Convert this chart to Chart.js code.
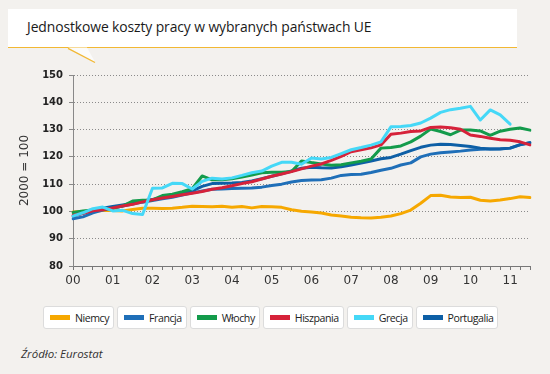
<!DOCTYPE html>
<html>
<head>
<meta charset="utf-8">
<script src="https://cdn.jsdelivr.net/npm/chart.js@4/dist/chart.umd.min.js"></script>
<style>
  html, body { margin: 0; padding: 0; }
  body { width: 550px; height: 374px; background: #f3f1ee; position: relative; overflow: hidden; font-family: "Open Sans", sans-serif; }
  .titlebox { position: absolute; left: 8px; top: 9px; width: 509px; height: 38px; background: #fff; border-bottom: 1.5px solid #f2b833; }
  .titlebox span { position: absolute; left: 19px; top: 8px; font-size: 13.9px; letter-spacing: -0.1px; color: #1a1a1a; white-space: nowrap; }
  .tail { position: absolute; left: 0; top: 0; }
  .wrap { position: absolute; left: 0; top: 0; width: 550px; height: 300px; }
  .legend { position: absolute; left: 43px; top: 306px; display: flex; gap: 3px; }
  .legend .item { display: flex; align-items: center; height: 21px; padding: 0 4px 0 6px; background: #fff; border: 1px solid #dcdcdc; border-radius: 3px; font-size: 10.6px; letter-spacing: -0.45px; color: #222; }
  .legend .sw { width: 20px; height: 5px; margin-right: 5px; }
  .source { position: absolute; left: 21px; top: 346px; font-size: 11.5px; font-style: italic; color: #333; }
</style>
</head>
<body>
<div class="titlebox"><span>Jednostkowe koszty pracy w wybranych państwach UE</span></div>
<svg class="tail" width="550" height="70">
  <polygon points="68,47.5 87,47.5 95,62" fill="#fbfbfa"/>
  <line x1="68" y1="48.3" x2="95" y2="62.5" stroke="#f2b833" stroke-width="1.3"/>
</svg>
<div class="wrap"><canvas id="c" width="550" height="300"></canvas></div>
<div class="legend" id="legend"></div>
<div class="source">Źródło: Eurostat</div>
<script>
// lata na osi X (kwartały 2000 Q1 - 2011 Q3)
const yearLabels = ['00','01','02','03','04','05','06','07','08','09','10','11'];
const quarters = [];
for (let i = 0; i < 47; i++) quarters.push(yearLabels[Math.floor(i / 4)] + ' Q' + (i % 4 + 1));

const seriesNames = ['Niemcy', 'Francja', 'Włochy', 'Hiszpania', 'Grecja', 'Portugalia'];
const seriesColors = ['#f6a800', '#1f6fb8', '#139b4b', '#d6223a', '#45d8f7', '#0d5fa6'];

const niemcy = [99.8,100,100.2,100.3,100.3,100.2,100.7,101.2,101.2,101.1,101.2,101.5,101.9,101.8,101.7,101.9,101.5,101.8,101.3,101.8,101.7,101.5,100.6,100.1,
  99.8,99.4,98.7,98.3,97.9,97.7,97.6,97.9,98.3,99.2,100.5,103,105.8,105.9,105.3,105.1,105.2,104.1,103.8,104.2,104.7,105.4,105.1];
const francja = [97.3,98,99.5,100.5,101.2,102,102.7,103.4,104,104.6,105.2,106,106.8,107.5,108.1,108.2,108.4,108.5,108.6,108.9,109.5,110,110.8,111.3,
  111.5,111.6,112.2,113.2,113.5,113.6,114.3,115.1,115.8,117,117.8,120,121,121.5,121.8,122.1,122.5,122.8,122.9,123,123.2,124.4,125.2];
const wlochy = [99.6,100.2,100.5,100.8,101.2,102,103.8,104.1,104.2,105.8,106.3,107.2,108.3,113,111.6,111.6,112,112.6,113.3,114.2,114.4,114.4,114.6,118.5,
  117.9,117.4,116.9,117.1,117.8,118.4,119.2,123.2,123.4,124,125.5,127.6,130.2,129.3,128.1,129.8,129.8,129.5,127.9,129.4,130.1,130.6,129.8];
const hiszpania = [98.5,99.3,100.2,100.6,101.3,102,102.6,103.5,104.3,104.9,105.5,106.1,106.7,107.3,108.1,108.7,109.4,110.2,110.9,111.9,112.9,113.7,114.6,115.6,
  116.6,117.4,118.7,120.2,121.9,122.6,123.3,124.4,128.3,128.7,129.3,129.5,130.8,130.9,130.7,130.1,128,127.5,126.8,126.3,126.1,125.5,124.4];
const grecja = [98.3,99.5,101,101.6,100.2,100.4,99.2,98.9,108.5,108.6,110.3,110.2,108.2,111,112.2,111.9,112.3,113.2,114.2,114.8,116.6,118,118,117.3,
  119.6,119.2,119.8,121.2,122.6,123.4,124.3,125.5,131,131.1,131.5,132.4,134.2,136.3,137.3,137.8,138.5,133.5,137.2,135.4,132,null,null];
const portugalia = [98.3,99.3,100.5,101.2,101.8,102.4,103,103.8,104.4,105,105.6,106.4,107.5,109.2,110.2,110.3,110.4,110.6,111.2,112,112.9,113.8,114.8,115.8,
  116.2,116,115.9,116.4,117,117.7,118.5,119.3,119.8,121,122.3,123.5,124.3,124.6,124.5,124.2,123.8,123.2,122.9,122.9,123.2,124.5,125.2];

const seriesData = [niemcy, francja, wlochy, hiszpania, grecja, portugalia];
const drawOrder = [6, 5, 3, 2, 1, 4];

const yTicks = [80, 90, 100, 110, 120, 130, 140, 150];

const datasets = seriesNames.map((name, i) => ({
  label: name,
  data: seriesData[i],
  borderColor: seriesColors[i],
  backgroundColor: seriesColors[i],
  borderWidth: 3,
  pointRadius: 0,
  tension: 0,
  borderJoinStyle: 'round',
  borderCapStyle: 'round',
  order: drawOrder[i]
}));

new Chart(document.getElementById('c'), {
  type: 'line',
  data: { labels: quarters, datasets: datasets },
  options: {
    responsive: false,
    animation: false,
    layout: { padding: { top: 75, right: 20, left: 0, bottom: 0 } },
    plugins: { legend: { display: false }, tooltip: { enabled: false } },
    scales: {
      x: {
        offset: false,
        grid: { drawOnChartArea: false, drawTicks: true, tickLength: 4, tickColor: '#777', tickWidth: 1 },
        border: { color: '#777', width: 1 },
        ticks: {
          autoSkip: false, maxRotation: 0, padding: 4,
          color: '#333', font: { family: 'DejaVu Sans', size: 12 },
          callback: (v, i) => (i % 4 === 0 ? yearLabels[i / 4] : '')
        },
        afterFit: (s) => { s.height = 34; }
      },
      y: {
        min: 80, max: 150,
        afterBuildTicks: (s) => { s.ticks = yTicks.map(v => ({ value: v })); },
        grid: { color: '#8a8a8a', lineWidth: 1, tickLength: 4, tickColor: '#888', tickBorderDash: [] },
        border: { color: '#888', width: 1, dash: [1, 2] },
        ticks: { padding: 6, color: '#222', font: { family: 'DejaVu Sans', size: 10, weight: 'bold' } },
        title: { display: true, text: '2000 = 100', color: '#333', font: { family: 'DejaVu Sans', size: 12 }, padding: { top: 18, bottom: 0 } },
        afterFit: (s) => { s.width = 73; }
      }
    }
  }
});

// legenda w ramkach
const legend = document.getElementById('legend');
seriesNames.forEach((name, i) => {
  const item = document.createElement('div');
  item.className = 'item';
  const sw = document.createElement('span');
  sw.className = 'sw';
  sw.style.background = seriesColors[i];
  item.appendChild(sw);
  item.appendChild(document.createTextNode(name));
  legend.appendChild(item);
});
</script>
</body>
</html>
